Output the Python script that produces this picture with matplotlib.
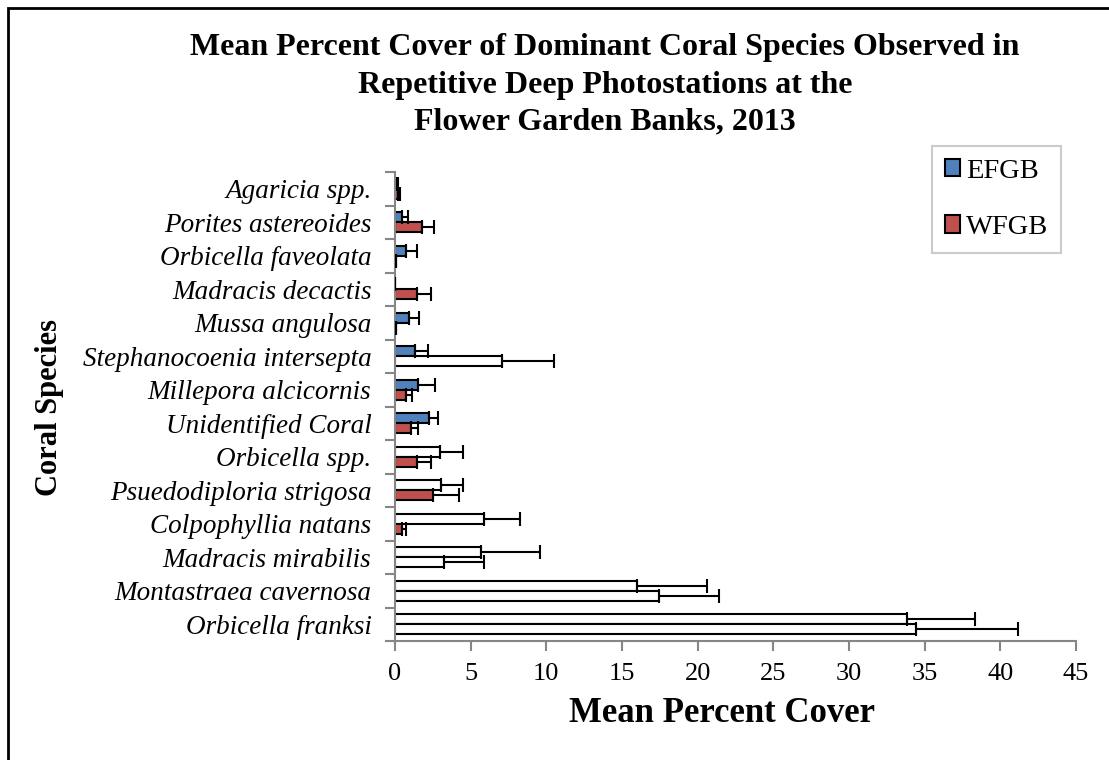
import matplotlib
matplotlib.use('Agg')
from matplotlib import pyplot as plt
from matplotlib.patches import Patch, Rectangle
import numpy as np

# data (top to bottom)
species = ['Agaricia spp.', 'Porites astereoides', 'Orbicella faveolata',
           'Madracis decactis', 'Mussa angulosa', 'Stephanocoenia intersepta',
           'Millepora alcicornis', 'Unidentified Coral', 'Orbicella spp.',
           'Psuedodiploria strigosa', 'Colpophyllia natans', 'Madracis mirabilis',
           'Montastraea cavernosa', 'Orbicella franksi']
efgb_mean = [0.12, 0.49, 0.70, 0.0, 0.92, 1.31, 1.53, 2.23, 2.97, 3.05, 5.90, 5.71, 15.98, 33.85]
efgb_top = [0.22, 0.89, 1.44, 0.0, 1.58, 2.15, 2.63, 2.83, 4.47, 4.50, 8.26, 9.61, 20.64, 38.30]
wfgb_mean = [0.18, 1.77, 0.05, 1.44, 0.05, 7.08, 0.75, 1.08, 1.47, 2.48, 0.44, 3.21, 17.45, 34.45]
wfgb_top = [0.30, 2.58, 0.08, 2.36, 0.08, 10.50, 1.13, 1.50, 2.36, 4.25, 0.73, 5.90, 21.40, 41.16]

plt.rcParams['font.family'] = ['Liberation Serif', 'DejaVu Serif']

BLUE = '#4f81bd'
RED = '#c0504d'

fig = plt.figure(figsize=(11.09, 7.6), dpi=100)
ax = fig.add_axes([395/1109, 1-641/760, (1076-395)/1109, (641-172)/760])

y = np.arange(len(species))
h = 0.3


def fills(vals, color):
    # in the source image the longer bars render without fill
    return ['white' if v > 2.9 else color for v in vals]


def draw(vals, tops, off, color):
    vals = np.array(vals)
    err = np.array(tops) - vals
    ax.barh(y + off, vals, height=h, color=fills(vals, color),
            edgecolor='black', linewidth=1.5, zorder=2)
    ax.errorbar(vals, y + off, xerr=[np.zeros_like(err), err], fmt='none',
                ecolor='black', elinewidth=1.5, capsize=5, capthick=1.5, zorder=3)


draw(efgb_mean, efgb_top, -h/2, BLUE)
draw(wfgb_mean, wfgb_top, h/2, RED)

ax.set_ylim(len(species) - 0.5, -0.5)
ax.set_xlim(0, 45)
ax.set_xticks(np.arange(0, 46, 5))
ax.tick_params(axis='x', labelsize=19, length=7, color='#868686', width=1.5, pad=9)
ax.set_yticks(y)
ax.set_yticklabels(species, fontstyle='italic', fontsize=19.5)
ax.tick_params(axis='y', which='major', length=0, pad=17)
ax.set_yticks(np.arange(len(species) + 1) - 0.5, minor=True)
ax.tick_params(axis='y', which='minor', length=7, color='#868686', width=1.5)

for s in ['top', 'right']:
    ax.spines[s].set_visible(False)
for s in ['left', 'bottom']:
    ax.spines[s].set_color('#868686')
    ax.spines[s].set_linewidth(1.5)

fig.text(722/1109, 1-713/760, 'Mean Percent Cover', fontsize=25, fontweight='bold',
         ha='center', va='center')
fig.text(50/1109, 1-408/760, 'Coral Species', rotation=90, fontsize=22,
         fontweight='bold', ha='center', va='center')

fig.text(605/1109, 1-85/760,
         'Mean Percent Cover of Dominant Coral Species Observed in\n'
         'Repetitive Deep Photostations at the\nFlower Garden Banks, 2013',
         ha='center', va='center', fontsize=23, fontweight='bold', linespacing=1.38)

handles = [Patch(facecolor=BLUE, edgecolor='black', linewidth=1.5, label='EFGB'),
           Patch(facecolor=RED, edgecolor='black', linewidth=1.5, label='WFGB')]
leg = fig.legend(handles=handles, loc='upper left',
                 bbox_to_anchor=(932/1109, 1-146/760), fontsize=20.5,
                 frameon=True, fancybox=False, edgecolor='#bfbfbf',
                 handlelength=0.55, handleheight=0.55, handletextpad=0.2,
                 labelspacing=1.1, borderpad=0.45, borderaxespad=0)
leg.get_frame().set_linewidth(1.5)

# outer chart border (only left and top visible in the reference crop)
fig.add_artist(Rectangle((8/1109, -0.02), 1.1, 1 - 8/760 + 0.02, transform=fig.transFigure,
                         fill=False, edgecolor='black', linewidth=2))

fig.savefig('out.png', dpi=100)
